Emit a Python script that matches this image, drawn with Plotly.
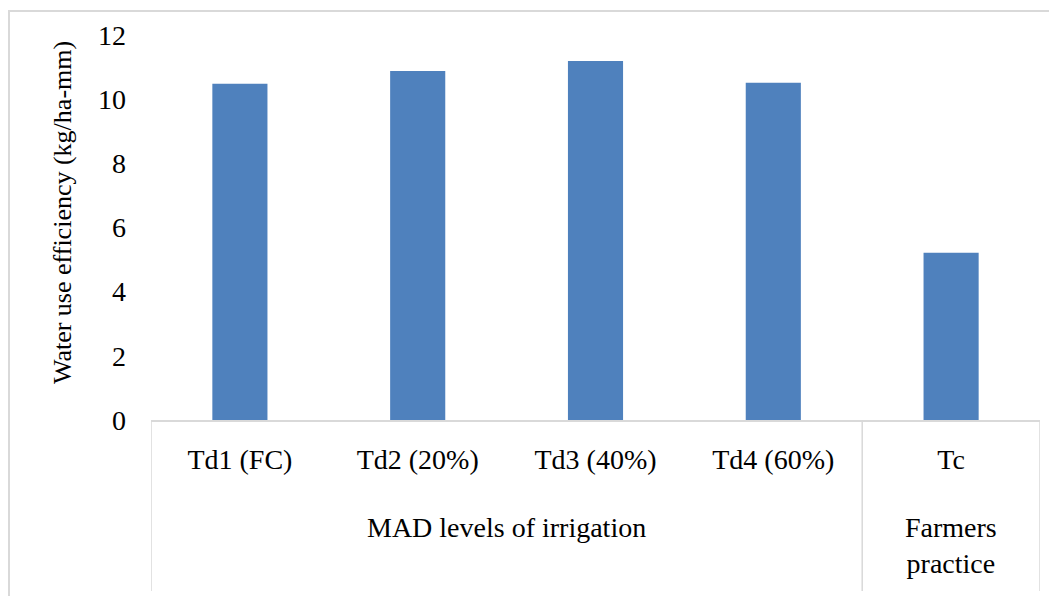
import plotly.graph_objects as go

categories = ["Td1 (FC)", "Td2 (20%)", "Td3 (40%)", "Td4 (60%)", "Tc"]
values = [10.48, 10.88, 11.19, 10.51, 5.21]
groups = ["MAD levels of irrigation", "Farmers<br>practice"]
group_centers = [1.5, 4.0]
group_edges = [-0.5, 3.5, 4.5]
y_ticks = [0, 2, 4, 6, 8, 10, 12]
y_title = "Water use efficiency (kg/ha-mm)"

# page body has an 8px margin; figure placed at (8, 8)
OFF = 8
W, H = 1057 - OFF, 596 - OFF
ml, mt = 151 - OFF, 33 - OFF
pw, ph = 889, 387
mr, mb = W - ml - pw, H - mt - ph

def px_x(p):  # page pixel -> paper x
    return (p - OFF - ml) / pw

def px_y(p):  # page pixel -> paper y
    return (mt + ph - (p - OFF)) / ph

FONT = "Liberation Serif"
GRID = "#d9d9d9"

fig = go.Figure()
fig.add_trace(go.Bar(
    x=list(range(len(categories))), y=values,
    width=0.31, marker=dict(color="#4f81bd", line=dict(width=0)),
))

shapes = []
for e in group_edges:
    shapes.append(dict(type="line", xref="x", yref="paper", x0=e, x1=e,
                       y0=0, y1=px_y(592), line=dict(color=GRID, width=1.5)))
# chart area border
shapes.append(dict(type="rect", xref="paper", yref="paper",
                   x0=px_x(9), x1=px_x(1080), y0=px_y(620), y1=px_y(9),
                   line=dict(color=GRID, width=2), layer="below"))

annotations = []
for g, c in zip(groups, group_centers):
    annotations.append(dict(text=g, xref="x", yref="paper", x=c, y=px_y(510),
                            yanchor="top", xanchor="center", showarrow=False,
                            font=dict(family=FONT, size=28, color="#000")))
annotations.append(dict(text=y_title, xref="paper", yref="paper",
                        x=px_x(62), y=px_y(212), xanchor="center", yanchor="middle",
                        textangle=-90, showarrow=False,
                        font=dict(family=FONT, size=26, color="#000")))

fig.update_layout(
    width=W, height=H,
    margin=dict(l=ml, r=mr, t=mt, b=mb),
    paper_bgcolor="white", plot_bgcolor="white",
    showlegend=False,
    font=dict(family=FONT, size=28, color="#000"),
    shapes=shapes, annotations=annotations,
    xaxis=dict(
        range=[-0.5, 4.5], tickmode="array",
        tickvals=list(range(len(categories))), ticktext=categories,
        showline=True, linecolor=GRID, linewidth=1.5,
        showgrid=False, zeroline=False, ticks="",
        ticklabelstandoff=14,
        tickfont=dict(family=FONT, size=28, color="#000"),
    ),
    yaxis=dict(
        range=[0, 12], tickmode="array", tickvals=y_ticks,
        showgrid=False, zeroline=False, showline=False, ticks="",
        ticklabelstandoff=24,
        tickfont=dict(family=FONT, size=28, color="#000"),
    ),
)

fig.write_html("out.html")
